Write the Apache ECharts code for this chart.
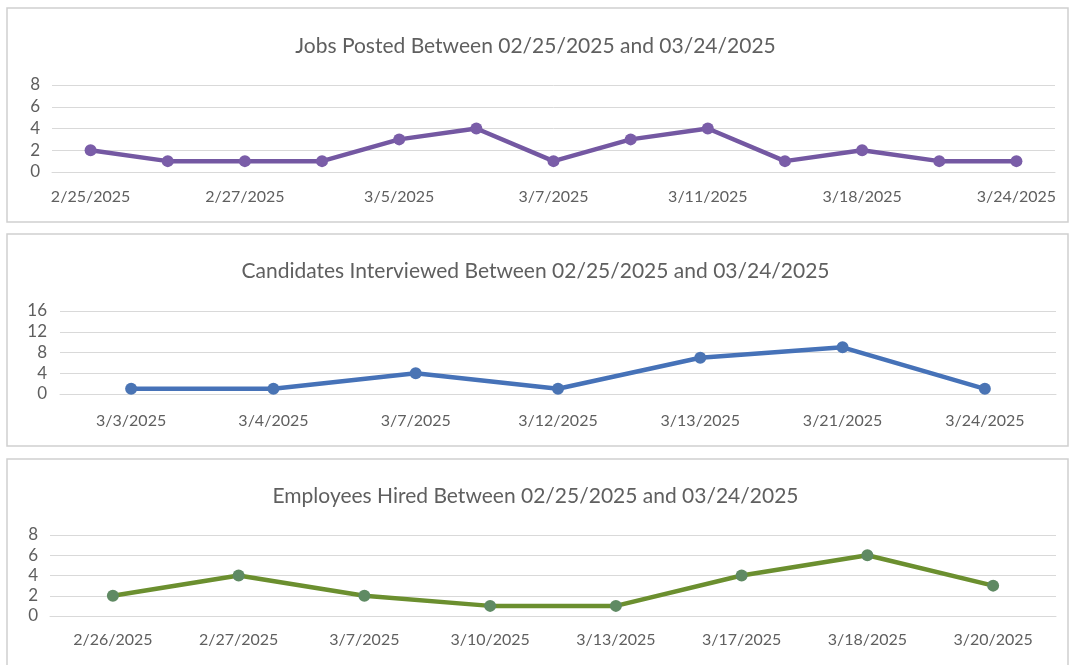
<!DOCTYPE html>
<html>
<head>
<meta charset="utf-8">
<script src="https://cdn.jsdelivr.net/npm/echarts@6/dist/echarts.min.js"></script>
<style>
  html, body { margin: 0; padding: 0; background: #fff; }
  #main { width: 1071px; height: 665px; }
</style>
</head>
<body>
<div id="main"></div>
<script>
// data
var jobs_dates = ['2/25/2025', '2/26/2025', '2/27/2025', '2/28/2025', '3/5/2025', '3/6/2025', '3/7/2025',
    '3/10/2025', '3/11/2025', '3/13/2025', '3/18/2025', '3/20/2025', '3/24/2025'];
var jobs_values = [2, 1, 1, 1, 3, 4, 1, 3, 4, 1, 2, 1, 1];

var cand_dates = ['3/3/2025', '3/4/2025', '3/7/2025', '3/12/2025', '3/13/2025', '3/21/2025', '3/24/2025'];
var cand_values = [1, 1, 4, 1, 7, 9, 1];

var hired_dates = ['2/26/2025', '2/27/2025', '3/7/2025', '3/10/2025', '3/13/2025', '3/17/2025', '3/18/2025', '3/20/2025'];
var hired_values = [2, 4, 2, 1, 1, 4, 6, 3];

var titles = [
    'Jobs Posted Between 02/25/2025 and 03/24/2025',
    'Candidates Interviewed Between 02/25/2025 and 03/24/2025',
    'Employees Hired Between 02/25/2025 and 03/24/2025'
];

var font = 'Lato, "Open Sans", sans-serif';
var txt = '#5f5f5f';
var gridLine = '#d9d9d9';

function xAx(idx, data, margin, interval) {
    return {
        type: 'category', gridIndex: idx, data: data,
        axisLine: { lineStyle: { color: gridLine } },
        axisTick: { show: false },
        axisLabel: { color: txt, fontSize: 16, fontFamily: font, margin: margin, interval: interval }
    };
}
function yAx(idx, max, step, margin) {
    return {
        type: 'value', gridIndex: idx, min: 0, max: max, interval: step,
        axisLine: { show: false }, axisTick: { show: false },
        axisLabel: { color: txt, fontSize: 17, fontFamily: font, margin: margin },
        splitLine: { lineStyle: { color: gridLine, width: 1 } }
    };
}
function line(idx, values, color, markColor) {
    return {
        type: 'line', xAxisIndex: idx, yAxisIndex: idx, data: values,
        symbol: 'circle', symbolSize: 12,
        lineStyle: { color: color, width: 4.5 },
        itemStyle: { color: markColor },
        z: 3
    };
}

var option = {
    backgroundColor: '#fff',
    animation: false,
    graphic: [
        { type: 'rect', shape: { x: 7, y: 8, width: 1061, height: 214 }, style: { fill: '#fff', stroke: '#d0d0d0', lineWidth: 1.5 }, z: -10 },
        { type: 'rect', shape: { x: 7, y: 234, width: 1061, height: 212 }, style: { fill: '#fff', stroke: '#d0d0d0', lineWidth: 1.5 }, z: -10 },
        { type: 'rect', shape: { x: 7, y: 459, width: 1061, height: 220 }, style: { fill: '#fff', stroke: '#d0d0d0', lineWidth: 1.5 }, z: -10 }
    ],
    title: [
        { text: titles[0], left: 'center', top: 31 },
        { text: titles[1], left: 'center', top: 256 },
        { text: titles[2], left: 'center', top: 481 }
    ].map(function (t) {
        t.textStyle = { color: txt, fontSize: 21, fontWeight: 'normal', fontFamily: font };
        return t;
    }),
    grid: [
        { left: 52, right: 16, top: 85, height: 87 },
        { left: 60, right: 15, top: 311, height: 83 },
        { left: 50, right: 15, top: 535, height: 81 }
    ],
    xAxis: [
        xAx(0, jobs_dates, 17, 1),
        xAx(1, cand_dates, 19, 0),
        xAx(2, hired_dates, 16, 0)
    ],
    yAxis: [
        yAx(0, 8, 2, 12),
        yAx(1, 16, 4, 13),
        yAx(2, 8, 2, 12)
    ],
    series: [
        line(0, jobs_values, '#7458a2', '#7a5da8'),
        line(1, cand_values, '#4672b8', '#4a74b4'),
        line(2, hired_values, '#6b8f2f', '#5f8a63')
    ]
};

var chart = echarts.init(document.getElementById('main'), null, { renderer: 'canvas' });
chart.setOption(option);
</script>
</body>
</html>
